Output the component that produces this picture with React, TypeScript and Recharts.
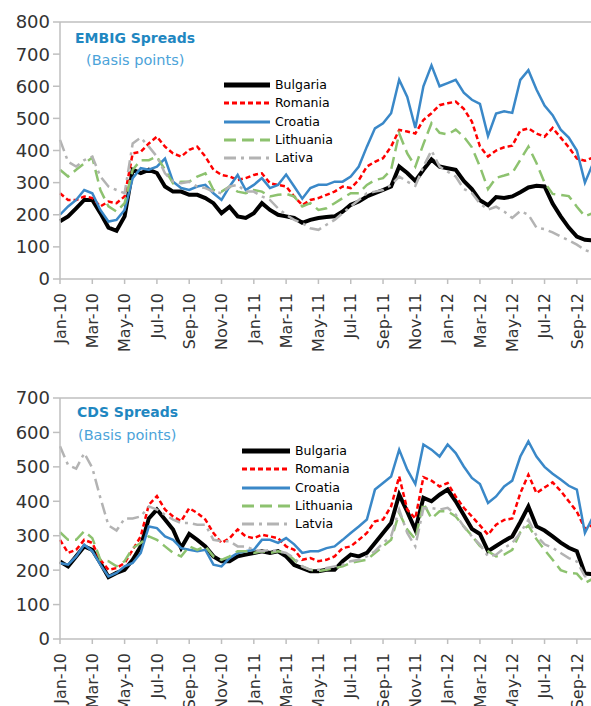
import { LineChart, Line, XAxis, YAxis, ReferenceLine } from 'recharts';

// time axis: months since Jan-2010, half-month steps
const months = [
  0, 0.5, 1, 1.5, 2, 2.5, 3, 3.5, 4, 4.5, 5, 5.5, 6, 6.5, 7, 7.5, 8, 8.5, 9, 9.5, 10, 10.5, 11, 11.5,
  12, 12.5, 13, 13.5, 14, 14.5, 15, 15.5, 16, 16.5, 17, 17.5, 18, 18.5, 19, 19.5, 20, 20.5, 21, 21.5, 22, 22.5, 23, 23.5,
  24, 24.5, 25, 25.5, 26, 26.5, 27, 27.5, 28, 28.5, 29, 29.5, 30, 30.5, 31, 31.5, 32, 32.5, 33,
];
const monthTicks = [0, 2, 4, 6, 8, 10, 12, 14, 16, 18, 20, 22, 24, 26, 28, 30, 32];
const monthLabels = [
  'Jan-10', 'Mar-10', 'May-10', 'Jul-10', 'Sep-10', 'Nov-10',
  'Jan-11', 'Mar-11', 'May-11', 'Jul-11', 'Sep-11', 'Nov-11',
  'Jan-12', 'Mar-12', 'May-12', 'Jul-12', 'Sep-12',
];

// EMBIG spreads (bp)
const emBul = [
  180, 195, 220, 246, 246, 205, 160, 150, 195, 340, 330, 340, 330, 288, 272, 272, 262, 262, 252, 236, 205, 225, 195, 190,
  205, 236, 215, 200, 195, 190, 175, 184, 190, 193, 195, 210, 231, 241, 257, 267, 277, 288, 350, 330, 305, 340, 372, 350,
  345, 340, 305, 280, 245, 230, 255, 252, 257, 270, 285, 290, 288, 235, 195, 160, 132, 122, 120,
];
const emRom = [
  267, 246, 246, 257, 252, 226, 241, 236, 257, 391, 396, 422, 443, 412, 391, 381, 402, 412, 381, 340, 324, 319, 308, 314,
  324, 329, 298, 293, 288, 257, 230, 246, 252, 262, 272, 288, 283, 308, 350, 365, 376, 412, 464, 459, 453, 495, 516, 541,
  547, 552, 530, 490, 413, 381, 400, 410, 415, 462, 469, 453, 443, 470, 440, 410, 375, 368, 378,
];
const emCro = [
  200, 226, 246, 277, 267, 215, 179, 184, 215, 314, 345, 340, 350, 375, 303, 283, 277, 288, 293, 267, 246, 288, 324, 277,
  293, 314, 283, 293, 325, 288, 250, 283, 293, 293, 303, 303, 319, 350, 412, 469, 485, 516, 620, 567, 470, 600, 665, 600,
  610, 620, 580, 558, 545, 445, 515, 522, 517, 620, 650, 590, 540, 510, 465, 440, 400, 300, 360,
];
const emLit = [
  340, 319, 340, 360, 378, 277, 226, 210, 236, 340, 370, 370, 381, 340, 298, 303, 303, 319, 329, 277, 272, 288, 272, 267,
  277, 272, 257, 262, 265, 257, 226, 236, 215, 220, 236, 252, 267, 267, 293, 308, 314, 340, 453, 391, 350, 420, 485, 455,
  450, 465, 443, 410, 350, 280, 315, 322, 330, 371, 412, 361, 300, 265, 262, 258, 225, 195, 205,
];
const emLat = [
  433, 365, 350, 370, 381, 319, 288, 277, 267, 422, 440, 412, 381, 329, 303, 298, 303, 288, 283, 272, 267, 288, 293, 272,
  272, 257, 246, 220, 200, 184, 174, 158, 153, 169, 184, 205, 226, 246, 267, 272, 277, 293, 319, 303, 290, 350, 400, 350,
  334, 319, 280, 268, 235, 216, 225, 210, 190, 212, 200, 160, 155, 145, 132, 120, 107, 90, 82,
];

// CDS spreads (bp)
const cdsBul = [
  225, 211, 240, 269, 259, 221, 180, 192, 201, 230, 269, 350, 376, 347, 318, 264, 305, 288, 269, 240, 226, 226, 240, 245,
  250, 255, 250, 255, 240, 215, 206, 197, 197, 201, 201, 226, 245, 240, 250, 279, 308, 337, 419, 370, 317, 410, 400, 419,
  434, 400, 360, 320, 305, 255, 270, 285, 298, 340, 385, 327, 315, 298, 280, 265, 255, 190, 188,
];
const cdsRom = [
  288, 250, 259, 288, 279, 230, 201, 206, 221, 259, 298, 390, 415, 376, 356, 342, 380, 366, 347, 308, 279, 293, 318, 298,
  293, 303, 298, 293, 269, 259, 230, 235, 226, 230, 240, 264, 269, 288, 308, 342, 347, 385, 472, 376, 350, 470, 460, 443,
  453, 414, 381, 356, 330, 303, 332, 346, 350, 424, 477, 424, 440, 455, 430, 400, 370, 320, 332,
];
const cdsCro = [
  221, 216, 240, 274, 255, 216, 182, 192, 211, 221, 250, 327, 322, 298, 288, 264, 259, 255, 259, 216, 211, 235, 250, 255,
  259, 288, 288, 279, 293, 275, 250, 255, 255, 264, 269, 288, 308, 327, 347, 434, 453, 472, 550, 492, 450, 565, 550, 530,
  565, 540, 501, 468, 450, 395, 414, 443, 460, 530, 574, 530, 500, 480, 463, 445, 434, 308, 355,
];
const cdsLit = [
  310, 288, 288, 313, 293, 230, 226, 211, 226, 264, 279, 298, 288, 269, 250, 240, 269, 259, 269, 240, 230, 240, 255, 255,
  250, 255, 250, 255, 250, 230, 211, 201, 197, 201, 206, 211, 221, 226, 230, 250, 269, 288, 366, 318, 290, 395, 350, 371,
  371, 356, 327, 300, 270, 255, 240, 245, 259, 310, 330, 290, 259, 230, 200, 192, 190, 163, 175,
];
const cdsLat = [
  560, 505, 495, 540, 497, 410, 330, 315, 350, 350, 356, 385, 376, 361, 347, 337, 337, 332, 332, 288, 284, 284, 269, 269,
  259, 255, 259, 255, 250, 235, 211, 201, 201, 206, 211, 216, 226, 230, 240, 255, 279, 298, 376, 308, 269, 380, 380, 376,
  381, 361, 327, 298, 274, 240, 245, 264, 279, 308, 346, 300, 275, 265, 250, 235, 225, 182, 182,
];

const embigNames = ['Bulgaria', 'Romania', 'Croatia', 'Lithuania', 'Lativa'];
const cdsNames = ['Bulgaria', 'Romania', 'Croatia', 'Lithuania', 'Latvia'];

const keys = ['bul', 'rom', 'cro', 'lit', 'lat'];
const lineStyles: Record<string, { stroke: string; width: number; dash?: string }> = {
  bul: { stroke: '#000000', width: 4 },
  rom: { stroke: '#FF0000', width: 2.5, dash: '5 3' },
  cro: { stroke: '#3A88C8', width: 2.5 },
  lit: { stroke: '#8DC26F', width: 2.5, dash: '12 6' },
  lat: { stroke: '#B3B3B3', width: 2.5, dash: '12 5 3 5' },
};

const embigData = months.map((m, i) => ({
  m, bul: emBul[i], rom: emRom[i], cro: emCro[i], lit: emLit[i], lat: emLat[i],
}));
const cdsData = months.map((m, i) => ({
  m, bul: cdsBul[i], rom: cdsRom[i], cro: cdsCro[i], lit: cdsLit[i], lat: cdsLat[i],
}));

const axisGrey = '#BFBFBF';
const labelColor = '#333333';

function MonthTick({ x, y, payload }: { x?: number; y?: number; payload?: { value: number } }) {
  const label = monthLabels[monthTicks.indexOf(payload?.value ?? 0)];
  return (
    <text
      x={x}
      y={y}
      transform={`rotate(-90, ${x}, ${y})`}
      textAnchor="end"
      dy="0.36em"
      fontSize={16}
      fill={labelColor}
    >
      {label}
    </text>
  );
}

function LegendBox({ names, left, top, sample }: { names: string[]; left: number; top: number; sample: number }) {
  return (
    <div style={{ position: 'absolute', left, top }}>
      {keys.map((k, i) => {
        const s = lineStyles[k];
        return (
          <div key={k} style={{ display: 'flex', alignItems: 'center', height: 18.3 }}>
            <svg width={sample} height={18} style={{ display: 'block' }}>
              <line
                x1={0}
                x2={sample}
                y1={9}
                y2={9}
                stroke={s.stroke}
                strokeWidth={k === 'bul' ? 5 : 3}
                strokeDasharray={s.dash}
              />
            </svg>
            <span style={{ fontSize: 12.5, marginLeft: 5, color: '#000', lineHeight: '18px' }}>{names[i]}</span>
          </div>
        );
      })}
    </div>
  );
}

function SpreadChart({
  data,
  max,
  height,
  xAxisHeight,
}: {
  data: Record<string, number>[];
  max: number;
  height: number;
  xAxisHeight: number;
}) {
  const yTicks = Array.from({ length: max / 100 + 1 }, (_, i) => i * 100);
  return (
    <LineChart width={600} height={height} data={data} margin={{ top: 22, right: 7, bottom: 0, left: 0 }}>
      <XAxis
        dataKey="m"
        type="number"
        domain={[0, 33]}
        ticks={monthTicks}
        interval={0}
        height={xAxisHeight}
        tickSize={5}
        tickMargin={9}
        axisLine={{ stroke: axisGrey, strokeWidth: 1.5 }}
        tickLine={{ stroke: axisGrey, strokeWidth: 1.5 }}
        tick={<MonthTick />}
      />
      <YAxis
        type="number"
        domain={[0, max]}
        ticks={yTicks}
        interval={0}
        width={60}
        tickSize={7}
        tickMargin={3}
        axisLine={{ stroke: axisGrey, strokeWidth: 1.5 }}
        tickLine={{ stroke: axisGrey, strokeWidth: 1.5 }}
        tick={{ fontSize: 18, fill: labelColor }}
      />
      <ReferenceLine y={max} stroke={axisGrey} strokeWidth={1.5} />
      {keys.map((k) => (
        <Line
          key={k}
          dataKey={k}
          type="linear"
          dot={false}
          stroke={lineStyles[k].stroke}
          strokeWidth={lineStyles[k].width}
          strokeDasharray={lineStyles[k].dash}
          isAnimationActive={false}
        />
      ))}
    </LineChart>
  );
}

export default function App() {
  return (
    <div
      style={{
        position: 'absolute',
        left: 0,
        top: 0,
        width: 591,
        height: 706,
        overflow: 'hidden',
        background: '#fff',
        fontFamily: '"DejaVu Sans", sans-serif',
      }}
    >
      <div style={{ position: 'absolute', left: 0, top: 0 }}>
        <SpreadChart data={embigData} max={800} height={372} xAxisHeight={93} />
      </div>
      <div style={{ position: 'absolute', left: 0, top: 376 }}>
        <SpreadChart data={cdsData} max={700} height={330} xAxisHeight={67} />
      </div>

      <svg width={591} height={706} style={{ position: 'absolute', left: 0, top: 0, pointerEvents: 'none' }}>
        <text x={75} y={42.5} fontSize={14} fontWeight="bold" fill="#1F87C1">EMBIG Spreads</text>
        <text x={86} y={65} fontSize={14.5} fill="#4BA3D9">(Basis points)</text>
        <text x={77} y={417} fontSize={14} fontWeight="bold" fill="#1F87C1">CDS Spreads</text>
        <text x={78} y={440} fontSize={14.5} fill="#4BA3D9">(Basis points)</text>
      </svg>

      <LegendBox names={embigNames} left={224} top={76} sample={46} />
      <LegendBox names={cdsNames} left={242} top={442} sample={48} />
    </div>
  );
}
